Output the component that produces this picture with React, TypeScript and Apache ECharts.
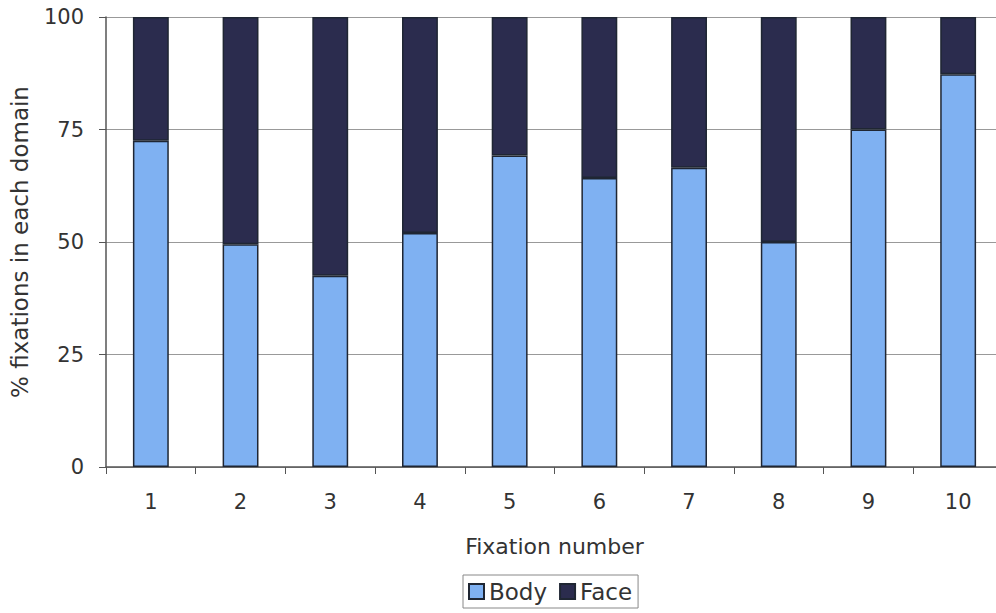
import React, { useEffect, useRef } from "react";
import * as echarts from "echarts";

const categories = ["1", "2", "3", "4", "5", "6", "7", "8", "9", "10"];
const bodyValues = [72.5, 49.5, 42.5, 52, 69.2, 64.2, 66.5, 50, 75, 87.3];
const faceValues = [27.5, 50.5, 57.5, 48, 30.8, 35.8, 33.5, 50, 25, 12.7];
const yTicks = [0, 25, 50, 75, 100];

export default function App() {
  const ref = useRef<HTMLDivElement>(null);
  useEffect(() => {
    document.body.style.margin = "0";
    const chart = echarts.init(ref.current!, null, { renderer: "svg" });
    const font = "'DejaVu Sans', Arial, sans-serif";
    chart.setOption({
      animation: false,
      backgroundColor: "#ffffff",
      textStyle: { fontFamily: font },
      grid: {
        left: 106,
        right: -7,
        top: 17,
        bottom: 146,
        containLabel: false,
        outerBoundsMode: "none",
      },
      legend: {
        data: ["Body", "Face"],
        left: 463,
        top: 575,
        orient: "horizontal",
        itemWidth: 15,
        itemHeight: 15,
        itemGap: 12,
        padding: [5, 6, 5, 5],
        borderColor: "#888",
        borderWidth: 1,
        textStyle: { fontSize: 23, color: "#333", fontFamily: font },
        icon: "rect",
      },
      xAxis: {
        type: "category",
        data: categories,
        name: "Fixation number",
        nameLocation: "middle",
        nameGap: 68,
        nameTextStyle: { fontSize: 22, color: "#333", fontFamily: font },
        axisLine: { lineStyle: { color: "#555", width: 1.5 } },
        axisTick: { show: true, length: 7, inside: false, alignWithLabel: false, lineStyle: { color: "#555" } },
        axisLabel: { fontSize: 21, color: "#333", margin: 24, fontFamily: font },
      },
      yAxis: {
        type: "value",
        min: yTicks[0],
        max: yTicks[yTicks.length - 1],
        interval: 25,
        name: "% fixations in each domain",
        nameLocation: "middle",
        nameGap: 75,
        nameTextStyle: { fontSize: 23, color: "#333", fontFamily: font },
        axisLine: { show: true, lineStyle: { color: "#555", width: 1.5 } },
        axisTick: { show: true, length: 7, lineStyle: { color: "#555" } },
        axisLabel: { fontSize: 21, color: "#333", margin: 22, fontFamily: font },
        splitLine: { show: true, lineStyle: { color: "#999", width: 1 } },
      },
      series: [
        {
          name: "Body",
          type: "bar",
          stack: "total",
          data: bodyValues,
          barWidth: "40%",
          itemStyle: { color: "#7fb1f2", borderColor: "#1f2633", borderWidth: 1.5 },
        },
        {
          name: "Face",
          type: "bar",
          stack: "total",
          data: faceValues,
          barWidth: "40%",
          itemStyle: { color: "#2b2c4e", borderColor: "#1f2633", borderWidth: 1.5 },
        },
      ],
    });
    return () => chart.dispose();
  }, []);
  return <div ref={ref} style={{ width: 996, height: 613 }} />;
}
